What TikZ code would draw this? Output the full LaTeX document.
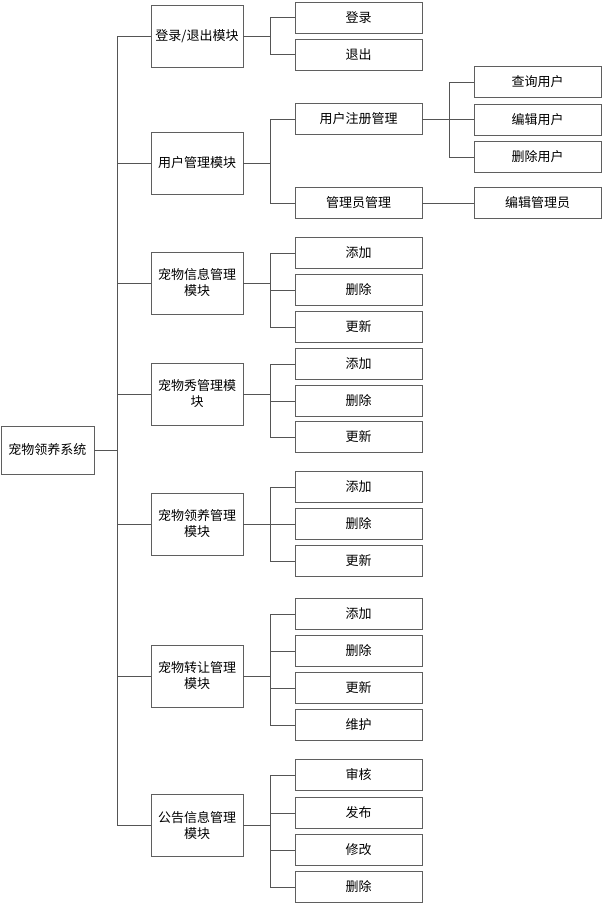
\documentclass[tikz,border=0pt]{standalone}
\usepackage{fontspec}
\setmainfont{Noto Sans CJK SC}
\usetikzlibrary{positioning,calc}
\definecolor{boxline}{RGB}{95,95,95}
\definecolor{linkline}{RGB}{85,85,85}

\begin{document}
\begin{tikzpicture}[x=1pt, y=-1pt, every node/.style={font=\fontsize{13}{16}\selectfont}]
  \tikzset{
      sysbox/.style={draw=boxline, line width=0.9pt, minimum width=93pt, minimum height=48pt, inner sep=0pt, align=center},
      modbox/.style={draw=boxline, line width=0.9pt, minimum width=92pt, minimum height=62pt, inner sep=0pt, align=center},
      leafbox/.style={draw=boxline, line width=0.9pt, minimum width=127pt, minimum height=31pt, inner sep=0pt, align=center},
      link/.style={draw=linkline, line width=0.9pt}
  }
  \useasboundingbox (0,0) rectangle (605,906);

  % root and modules
  \node[sysbox] (sys) at (47.5, 450) {宠物领养系统};
  \node[modbox] (m1) at (197, 36)  {登录/退出模块};
  \node[modbox] (m2) at (197, 163) {用户管理模块};
  \node[modbox] (m3) at (197, 283) {宠物信息管理\\模块};
  \node[modbox] (m4) at (197, 394) {宠物秀管理模\\块};
  \node[modbox] (m5) at (197, 524) {宠物领养管理\\模块};
  \node[modbox] (m6) at (197, 676) {宠物转让管理\\模块};
  \node[modbox] (m7) at (197, 825) {公告信息管理\\模块};

  % second level
  \node[leafbox] (s11) at (358.5, 17.5) {登录};
  \node[leafbox] (s12) at (358.5, 54.5) {退出};
  \node[leafbox] (s21) at (358.5, 119)  {用户注册管理};
  \node[leafbox] (s22) at (358.5, 203)  {管理员管理};
  \node[leafbox] (s31) at (358.5, 253) {添加};
  \node[leafbox] (s32) at (358.5, 290) {删除};
  \node[leafbox] (s33) at (358.5, 327) {更新};
  \node[leafbox] (s41) at (358.5, 364) {添加};
  \node[leafbox] (s42) at (358.5, 401) {删除};
  \node[leafbox] (s43) at (358.5, 437) {更新};
  \node[leafbox] (s51) at (358.5, 487) {添加};
  \node[leafbox] (s52) at (358.5, 524) {删除};
  \node[leafbox] (s53) at (358.5, 561) {更新};
  \node[leafbox] (s61) at (358.5, 614) {添加};
  \node[leafbox] (s62) at (358.5, 651) {删除};
  \node[leafbox] (s63) at (358.5, 688) {更新};
  \node[leafbox] (s64) at (358.5, 725) {维护};
  \node[leafbox] (s71) at (358.5, 775) {审核};
  \node[leafbox] (s72) at (358.5, 813) {发布};
  \node[leafbox] (s73) at (358.5, 850) {修改};
  \node[leafbox] (s74) at (358.5, 887) {删除};

  % third level
  \node[leafbox] (u1) at (537.5, 82)    {查询用户};
  \node[leafbox] (u2) at (537.5, 119.5) {编辑用户};
  \node[leafbox] (u3) at (537.5, 157)   {删除用户};
  \node[leafbox] (a1) at (537.5, 203)   {编辑管理员};

  % trunk
  \draw[link] (sys.east) -- ++(23,0) coordinate (trunk);
  \foreach \m in {m1,m2,m3,m4,m5,m6,m7}
      \draw[link] (trunk) |- (\m.west);

  % module branches
  \draw[link] (m1.east) -- ++(27,0) coordinate (b1);
  \foreach \s in {s11,s12} \draw[link] (b1) |- (\s.west);
  \draw[link] (m2.east) -- ++(27,0) coordinate (b2);
  \foreach \s in {s21,s22} \draw[link] (b2) |- (\s.west);
  \draw[link] (m3.east) -- ++(27,0) coordinate (b3);
  \foreach \s in {s31,s32,s33} \draw[link] (b3) |- (\s.west);
  \draw[link] (m4.east) -- ++(27,0) coordinate (b4);
  \foreach \s in {s41,s42,s43} \draw[link] (b4) |- (\s.west);
  \draw[link] (m5.east) -- ++(27,0) coordinate (b5);
  \foreach \s in {s51,s52,s53} \draw[link] (b5) |- (\s.west);
  \draw[link] (m6.east) -- ++(27,0) coordinate (b6);
  \foreach \s in {s61,s62,s63,s64} \draw[link] (b6) |- (\s.west);
  \draw[link] (m7.east) -- ++(27,0) coordinate (b7);
  \foreach \s in {s71,s72,s73,s74} \draw[link] (b7) |- (\s.west);

  % user sub-branches
  \draw[link] (s21.east) -- ++(27,0) coordinate (bu);
  \foreach \u in {u1,u2,u3} \draw[link] (bu) |- (\u.west);
  \draw[link] (s22.east) -- (a1.west);
\end{tikzpicture}
\end{document}
